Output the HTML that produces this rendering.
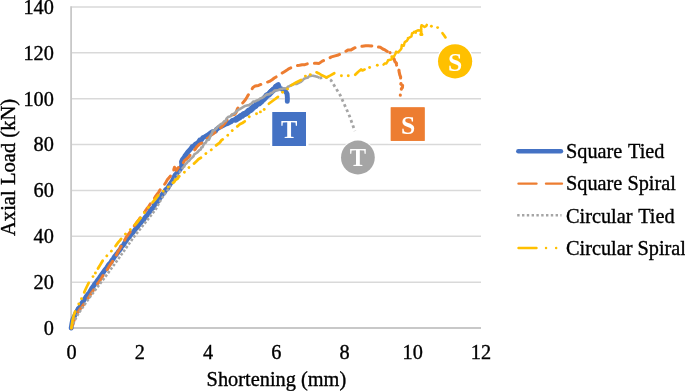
<!DOCTYPE html>
<html><head><meta charset="utf-8"><title>Axial Load vs Shortening</title>
<style>
html,body{margin:0;padding:0;background:#fff;}
body{width:685px;height:391px;overflow:hidden;}
svg{display:block;}
svg text{font-family:"Liberation Serif",serif;fill:#000;}
.k text,text.k{stroke:#000;stroke-width:0.35px;}
</style></head><body>
<svg width="685" height="391" viewBox="0 0 685 391">
<rect width="685" height="391" fill="#fff"/>
<g stroke="#d9d9d9" stroke-width="1.5" fill="none"><line x1="71.5" x2="481.0" y1="7.00" y2="7.00"/><line x1="71.5" x2="481.0" y1="52.86" y2="52.86"/><line x1="71.5" x2="481.0" y1="98.71" y2="98.71"/><line x1="71.5" x2="481.0" y1="144.57" y2="144.57"/><line x1="71.5" x2="481.0" y1="190.43" y2="190.43"/><line x1="71.5" x2="481.0" y1="236.29" y2="236.29"/><line x1="71.5" x2="481.0" y1="282.14" y2="282.14"/></g>
<g stroke="#c8c8c8" stroke-width="1.8" fill="none"><line x1="70.2" x2="481.0" y1="328.0" y2="328.0"/><line x1="71.1" x2="71.1" y1="6.3" y2="328.8"/></g>
<g class="k" font-size="20.3"><text x="53.8" y="13.80" text-anchor="end">140</text><text x="53.8" y="59.66" text-anchor="end">120</text><text x="53.8" y="105.51" text-anchor="end">100</text><text x="53.8" y="151.37" text-anchor="end">80</text><text x="53.8" y="197.23" text-anchor="end">60</text><text x="53.8" y="243.09" text-anchor="end">40</text><text x="53.8" y="288.94" text-anchor="end">20</text><text x="53.8" y="334.80" text-anchor="end">0</text><text x="71.50" y="358.8" text-anchor="middle">0</text><text x="139.75" y="358.8" text-anchor="middle">2</text><text x="208.00" y="358.8" text-anchor="middle">4</text><text x="276.25" y="358.8" text-anchor="middle">6</text><text x="344.50" y="358.8" text-anchor="middle">8</text><text x="412.75" y="358.8" text-anchor="middle">10</text><text x="481.00" y="358.8" text-anchor="middle">12</text></g>
<text class="k" font-size="20.6" transform="translate(15.2,167.4) rotate(-90)" text-anchor="middle">Axial Load (kN)</text>
<text class="k" font-size="20.35" x="276.4" y="386.2" text-anchor="middle">Shortening (mm)</text>
<g fill="none" stroke-linejoin="round">
<polyline points="71.2,328.0 71.6,325.7 72.0,323.2 72.5,320.6 73.2,318.7 74.6,315.8 75.9,312.9 77.2,311.0 78.2,308.8 79.8,307.2 80.7,305.1 82.1,302.8 83.3,301.1 84.9,298.7 86.1,296.7 87.6,294.6 89.2,292.8 90.6,290.6 92.0,287.9 93.7,285.7 95.0,283.7 96.8,281.4 97.8,279.9 99.3,278.0 100.9,275.7 102.1,273.9 103.5,272.0 104.8,270.1 106.5,268.1 107.6,266.3 109.0,264.2 110.8,262.4 112.0,260.3 113.4,258.6 114.6,256.6 116.3,254.4 117.7,252.7 119.1,250.7 120.6,248.9 121.6,246.6 123.4,245.1 124.6,242.9 126.1,240.9 127.4,238.9 129.1,237.0 130.7,234.9 132.6,232.8 134.1,231.1 135.6,228.9 137.5,226.9 138.8,225.0 140.7,222.8 142.2,220.9 144.1,219.0 145.7,216.8 147.1,215.1 149.0,213.0 150.2,210.6 151.9,208.8 153.6,207.6 154.3,205.1 156.4,203.6 157.8,201.3 158.4,199.4 160.5,197.4 161.5,195.6 163.0,193.5 165.0,191.2 165.5,190.0 167.9,188.0 168.9,185.9 170.9,183.1 171.9,181.8 173.1,179.5 174.0,177.3 175.2,175.0 176.9,173.3 178.4,171.0 179.8,169.7 181.2,167.9 181.8,164.6 181.5,161.8 182.6,159.3 184.2,157.5 184.9,156.0 187.0,153.1 188.4,151.4 190.5,149.1 192.1,146.8 194.1,145.8 195.5,144.1 198.2,142.5 199.9,140.0 201.6,139.6 202.9,137.6 205.0,136.6 207.1,135.5 209.5,133.9 210.6,132.9 212.6,131.7 215.4,131.2 216.4,129.4 218.6,127.8 220.5,126.8 223.4,125.3 225.5,124.1 228.0,123.3 230.9,121.9 232.5,120.4 234.9,119.8 237.3,118.5 239.3,117.7 241.1,116.0 243.4,114.9 245.5,113.4 247.7,111.3 249.9,110.1 251.5,108.2 254.1,107.0 256.7,104.8 258.8,103.5 260.0,101.5 261.7,100.2 264.2,98.6 266.3,96.7 268.3,94.8 269.6,93.1 271.5,90.6 274.3,88.5 275.5,86.6 278.3,84.6 279.5,87.9 281.8,89.1 284.7,90.4 286.1,92.3 287.1,94.0 287.3,96.8 287.4,98.7 287.3,101.4" stroke="#4472c4" stroke-width="4.9" stroke-linecap="round"/>
<polyline points="236.0,119.5 237.3,118.5 239.1,117.6 240.9,116.0 241.9,115.8 243.8,114.2 246.1,113.4 247.5,112.2 248.9,110.6 250.5,110.1 252.0,108.7 253.8,106.8 255.5,106.0 256.6,104.2 258.8,103.4 260.0,102.5 261.4,101.3 262.5,100.0 263.9,98.8 265.9,96.7 266.6,95.5 269.0,94.4 270.1,93.0 271.6,91.5 273.0,90.2 274.8,89.0 276.3,87.0" stroke="#4472c4" stroke-width="6.2" stroke-linecap="round"/>
<polyline points="71.5,328.0 72.5,325.3 73.3,322.4 74.3,319.6 75.7,316.7 77.0,314.0 78.5,311.5 80.1,309.1 81.9,306.9 83.6,304.6 85.5,302.0 87.2,299.5 89.1,296.8 90.7,294.2 92.6,291.5 94.3,289.1 96.0,286.1 97.6,283.7 99.6,281.2 101.4,278.3 102.9,275.7 104.6,273.2 106.6,270.7 108.2,268.0 109.9,265.2 111.8,262.5 113.3,260.1 114.9,257.3 116.5,254.8 117.7,252.1 119.4,249.5 120.8,246.9 122.5,244.2 123.9,241.5 125.2,239.1 126.6,236.6 128.7,233.8 130.4,231.5 132.0,229.3 133.5,226.9 135.4,224.5 136.9,222.1 139.1,219.4 140.9,216.6 142.9,214.1 144.9,211.6 146.8,208.8 148.6,206.6 150.1,204.3 152.0,201.5 153.8,199.2 155.2,197.0 157.0,194.5 158.8,192.1 160.3,189.4 161.8,187.5 164.1,185.0 165.8,182.5 167.1,180.1 169.7,177.1 171.4,174.6 173.7,172.0 173.8,169.5 174.5,167.2 176.5,170.3 178.3,167.5 180.3,165.1 183.0,163.4 184.5,160.6 186.8,158.8 189.2,156.5 191.0,153.7 192.9,151.4 195.1,149.4 196.9,146.7 199.5,144.1 201.8,143.1 204.2,140.8 206.1,139.2 208.5,137.7 210.9,135.3 213.3,133.7 215.7,131.9 217.7,129.9 220.8,127.6 223.0,125.3 225.0,123.0 226.9,120.2 229.5,117.3 231.5,115.0 234.9,114.3 236.3,112.1 237.2,109.3 238.9,106.5 241.2,105.0 243.0,102.6 245.4,99.7 246.9,97.3 248.4,94.7 249.7,92.1 251.3,90.3 252.9,87.5 255.2,86.0 258.6,85.4 261.7,84.1 264.9,83.0 269.4,81.4 272.1,79.7 274.3,78.0 277.0,76.4 278.7,75.4 282.0,73.2 284.4,71.7 287.4,69.8 289.2,68.6 292.2,67.3 294.2,66.2 296.7,65.7 299.6,65.3 302.1,64.8 304.9,64.7 307.6,63.8 310.8,63.8 313.9,63.2 316.5,63.2 319.1,63.4 322.3,61.1 325.6,59.6 328.8,58.3 331.5,56.9 335.1,55.9 338.3,55.0 340.7,53.7 342.4,52.5 345.2,51.6 347.8,50.1 351.1,49.9 354.1,48.1 356.6,47.1 359.7,46.0 362.3,46.3 365.7,45.7 368.4,45.7 371.2,46.1 374.2,45.3 376.7,46.8 380.3,47.3 382.8,49.0 385.0,49.9 387.5,51.5 390.0,52.6" stroke="#ed7d31" stroke-width="3.0" stroke-dasharray="10 7.2" stroke-linecap="round"/>
<polyline points="390.0,52.6 391.5,55.0 391.5,55.8 393.5,58.3 394.1,59.0 394.9,61.6 396.4,63.1 396.6,65.0 397.0,66.8 397.1,68.7 399.0,70.3 399.1,71.7 399.8,74.9 400.6,76.8 400.6,79.3 401.7,80.8 400.8,84.1 402.6,85.4 402.4,87.5 401.4,88.8 400.9,91.3 400.6,92.7 400.3,95.2" stroke="#ed7d31" stroke-width="3.1" stroke-dasharray="0.1 5.5 9 6 8 6 7 6 4 40" stroke-linecap="round"/>
<polyline points="71.8,328.0 74.3,321.0 78.8,313.0 90.0,296.9 101.6,281.6 105.2,277.0 119.0,258.0 134.3,236.4 145.0,223.0 156.0,208.9 161.3,199.0 171.5,184.5 181.9,169.0" stroke="#a5a5a5" stroke-width="2.6" stroke-dasharray="2.6 1.8"/>
<polyline points="181.9,169.0 183.5,167.0 184.1,166.7 185.1,164.4 186.8,163.0 188.1,161.2 189.0,160.9 190.1,159.4 191.5,158.1 193.5,156.3 194.3,154.3 196.5,153.0 197.2,152.5 199.4,150.2 200.8,149.4 201.3,147.5 202.5,147.2 203.5,144.8 204.5,143.2 205.9,142.6 206.7,140.3 208.9,139.7 210.1,136.9 210.5,135.8 211.8,133.6 212.8,130.8 214.3,130.2 216.4,128.4 217.6,126.8 219.1,125.6 221.1,123.9 222.3,123.5 224.2,121.3 225.9,120.7 226.5,118.7 228.0,117.1 230.5,116.3 231.9,114.7 232.4,114.4 234.8,113.3 236.2,111.5 238.2,109.9 239.9,109.1 241.4,108.2 243.5,106.9 245.1,105.9 246.7,105.5 249.0,105.1 250.4,104.2 251.5,103.5 253.2,101.5 255.3,101.4 256.8,100.4 258.4,99.9 260.2,98.4 262.0,97.9 264.1,96.6 265.1,95.8 266.6,94.6 269.5,94.1 270.5,93.2 272.8,92.4 274.7,90.5 276.9,90.4 278.6,90.0 280.7,89.0 282.1,88.8 284.0,88.2 286.2,88.5 287.9,86.8 289.2,86.3 291.4,85.3 292.5,84.8 294.7,83.6 296.9,83.9 298.8,82.9 300.9,81.9 302.7,80.2 304.2,78.7 306.2,77.9 307.6,77.7 309.3,76.1 311.9,75.8 313.0,75.7 315.3,76.3 317.9,77.0 319.5,78.0" stroke="#a5a5a5" stroke-width="2.6"/>
<polyline points="319.5,78.0 326.4,77.3 331.0,80.3 334.5,86.0 340.2,95.2 344.9,105.6 349.5,116.0 353.6,127.5 354.9,131.0" stroke="#a5a5a5" stroke-width="2.8" stroke-dasharray="2.8 2.9"/>
<polyline points="98.0,268.5 99.5,266.1 100.8,263.9 102.2,261.5 103.6,259.2 105.0,257.6 106.6,256.1 107.9,254.4 109.5,253.0 111.0,251.5 112.4,249.9 114.0,247.9 115.5,246.1 117.1,243.9 118.4,242.2 120.0,240.3 121.6,238.3 123.1,236.5 124.7,234.8 126.4,233.2 128.4,231.5 130.0,229.9 131.5,228.3 133.2,226.5 134.8,224.9 136.6,223.1 137.9,221.4 139.4,219.4 140.9,217.6 142.3,215.7 143.7,213.6 145.1,211.7 146.7,209.8 147.9,208.1 149.5,206.2 151.0,204.1 152.6,202.3 154.3,200.3 155.9,198.5 157.4,196.5 159.0,194.4 161.2,193.1 163.1,191.2 164.7,189.9 166.8,188.1 168.4,186.9 170.1,185.4 172.3,183.6 174.0,182.1 175.3,180.2 177.7,178.5 178.9,176.6 180.5,174.9 182.7,173.7 184.3,172.3 185.7,170.6 187.3,168.6 189.3,167.3 191.0,165.7 192.5,164.3 194.4,163.3 196.2,161.6 198.4,159.2 201.2,157.6 202.8,156.4 204.3,154.9 206.3,153.2 208.2,151.9 210.8,150.2 212.7,148.8 214.5,146.9 215.8,145.7 217.8,144.1 219.9,142.5 221.3,140.4 223.2,139.1 225.3,137.6 227.0,136.1 228.7,134.0 231.0,132.4 232.3,130.5 234.5,128.7 235.7,127.6 238.1,125.8 239.8,124.3 242.4,123.0 244.5,121.6 246.5,119.3 247.8,117.7 250.0,116.3 252.0,114.8" stroke="#ffc000" stroke-width="2.8" stroke-dasharray="9 6.5 0.1 6.5 0.1 6.5" stroke-linecap="round"/>
<g stroke="#ffc000" stroke-width="2.7" stroke-linecap="round"><polyline points="71.3,328.2 72.6,320.0 73.6,316.0 75.2,311.5"/><polyline points="84.2,292.4 86.4,287.5 88.7,282.8"/><polyline points="268.8,103.8 273.5,100.2 278.0,96.9"/><polyline points="291.1,85.3 296.0,82.5 301.1,80.0"/><polyline points="316.5,72.3 318.4,73.2 322.0,75.3 326.4,77.5 330.0,75.6 334.3,73.2"/><polyline points="355.2,74.8 358.0,72.0 361.0,69.5 362.5,70.4 364.6,69.6"/><polyline points="442.5,33.2 444.0,35.2 445.5,37.4"/><polyline points="383.5,64.6 383.8,64.3 385.1,63.4 386.4,63.4 387.8,61.1 388.0,60.3 390.3,59.8 392.0,59.0 391.6,56.4 393.9,56.8 394.4,55.8 395.6,53.5 396.0,51.7 398.2,52.4 400.0,50.2 400.3,50.1 401.5,48.3 401.5,47.0 401.8,45.1 403.8,45.7 404.4,43.2 404.8,42.1 406.7,40.9 408.2,38.8 407.9,38.2 409.3,37.6 411.4,36.5 412.1,33.2 413.2,33.1 414.1,31.8 415.8,32.6 415.6,31.4 417.9,30.3 420.8,30.6 420.5,30.4 421.4,31.7 420.5,34.6 420.6,34.8 422.2,34.7 421.0,32.0 421.1,29.9 421.3,30.2 421.1,27.0 421.5,25.2 424.6,27.0 426.4,25.9 426.8,24.8" stroke-width="2.5"/></g>
<g fill="#ffc000" stroke="none"><circle cx="256.5" cy="113.8" r="1.45"/><circle cx="260.4" cy="111.9" r="1.45"/><circle cx="264.2" cy="109.5" r="1.45"/><circle cx="282.6" cy="92.3" r="1.45"/><circle cx="287.6" cy="88.9" r="1.45"/><circle cx="305.4" cy="76.1" r="1.45"/><circle cx="310.3" cy="74.6" r="1.45"/><circle cx="78.8" cy="304" r="1.45"/><circle cx="81.5" cy="298.7" r="1.45"/><circle cx="93.0" cy="276.6" r="1.45"/><circle cx="95.4" cy="273" r="1.45"/><circle cx="341.4" cy="75.7" r="1.45"/><circle cx="348.3" cy="75.7" r="1.45"/><circle cx="369.6" cy="67.5" r="1.45"/><circle cx="377.3" cy="65.3" r="1.45"/><circle cx="431.4" cy="26.2" r="1.45"/><circle cx="437.6" cy="27.6" r="1.45"/></g>
</g>
<g stroke="#fff" stroke-width="5" paint-order="stroke">
<rect x="272.5" y="112" width="33.5" height="34" fill="#4472c4"/>
<rect x="390.8" y="107.4" width="33.8" height="33.4" fill="#ed7d31"/>
</g>
<rect x="272.5" y="112" width="33.5" height="34" fill="#4472c4"/>
<rect x="390.8" y="107.4" width="33.8" height="33.4" fill="#ed7d31"/>
<circle cx="357.9" cy="157.5" r="16.9" fill="#a5a5a5" stroke="#fff" stroke-width="2" paint-order="stroke"/>
<circle cx="455.1" cy="61.3" r="17.1" fill="#ffc000" stroke="#fff" stroke-width="2.4" paint-order="stroke"/>
<g font-size="24.5" font-weight="bold" text-anchor="middle">
<text x="289.2" y="138.4" style="fill:#fff">T</text>
<text x="408" y="133.9" font-size="25.6" style="fill:#fff">S</text>
<text x="357.9" y="165.8" style="fill:#fff">T</text>
<text x="455.1" y="71.2" font-size="25.6" style="fill:#fff">S</text>
</g>
<g fill="none">
<line x1="518.3" x2="561" y1="151.2" y2="151.2" stroke="#4472c4" stroke-width="4.4" stroke-linecap="round"/>
<line x1="518.5" x2="562" y1="183.6" y2="183.6" stroke="#ed7d31" stroke-width="2.4" stroke-dasharray="18 9.5" stroke-linecap="round"/>
<line x1="517.2" x2="561.5" y1="215.2" y2="215.2" stroke="#a5a5a5" stroke-width="2.5" stroke-dasharray="2.4 2.4"/>
<line x1="518.5" x2="562" y1="248" y2="248" stroke="#ffc000" stroke-width="2.4" stroke-dasharray="18 9.5 0.1 10 0.1 10" stroke-linecap="round"/>
</g>
<g class="k" font-size="20.3">
<text x="566" y="158">Square <tspan dx="1">Tied</tspan></text>
<text x="566" y="190">Square Spiral</text>
<text x="566" y="222.5">Circular <tspan dx="1">Tied</tspan></text>
<text x="566" y="254.5">Circular Spiral</text>
</g>
</svg>
</body></html>
